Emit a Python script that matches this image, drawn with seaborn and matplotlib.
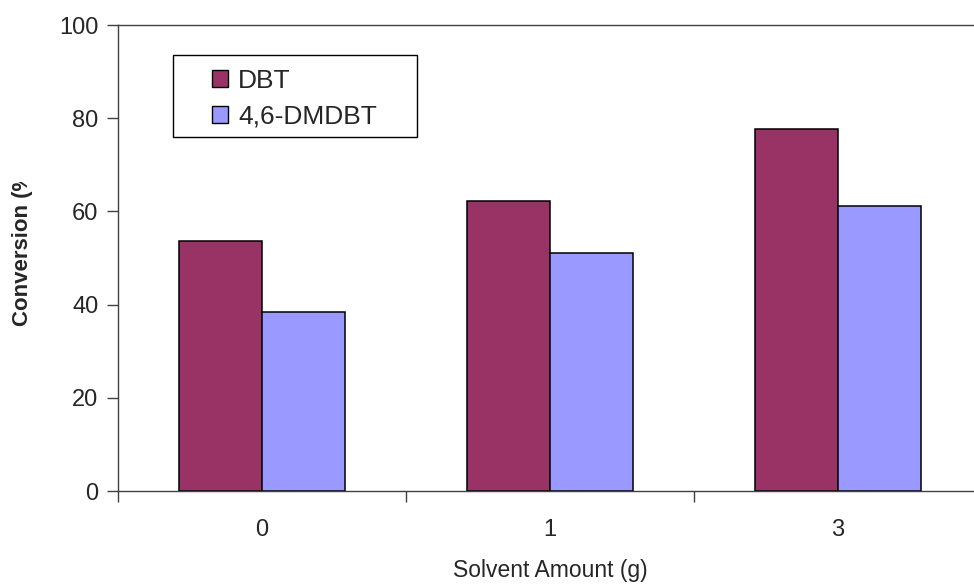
import matplotlib
matplotlib.use("Agg")
import matplotlib.pyplot as plt
import seaborn as sns
import pandas as pd
from matplotlib.transforms import Bbox
from matplotlib.patches import Patch, Rectangle

categories = ["0", "1", "3"]
dbt = [53.6, 62.2, 77.7]
dmdbt = [38.4, 51.1, 61.2]
series = ["DBT", "4,6-DMDBT"]
colors = ["#993366", "#9999FF"]
yticks = [0, 20, 40, 60, 80, 100]

df = pd.DataFrame({
    "Solvent": categories * 2,
    "Conversion": dbt + dmdbt,
    "Series": [series[0]] * 3 + [series[1]] * 3,
})

sns.set_theme(style="white")
plt.rcParams["font.family"] = ["Liberation Sans", "DejaVu Sans"]

W, H = 974, 585
fig = plt.figure(figsize=(W / 100, H / 100), dpi=100)
ax = fig.add_axes([118 / W, (H - 491) / H, (982 - 118) / W, (491 - 25) / H])

sns.barplot(data=df, x="Solvent", y="Conversion", hue="Series", order=categories,
            hue_order=series, palette=colors, width=0.576, gap=0,
            edgecolor="black", linewidth=1.1, saturation=1, ax=ax, legend=False)

ax.set_xlim(-0.5, 2.5)
ax.set_ylim(0, 100)
ax.set_yticks(yticks)
ax.set_yticklabels([str(v) for v in yticks], fontsize=17)
ax.set_xticks(range(3))
ax.set_xticklabels(categories, fontsize=17)
ax.set_xticks([-0.5, 0.5, 1.5, 2.5], minor=True)
ax.tick_params(axis="x", which="major", length=0, pad=20)
ax.tick_params(axis="x", which="minor", length=8, width=1, color="#404040", direction="out", bottom=True)
ax.tick_params(axis="y", length=8, width=1, color="#404040", direction="out", left=True, pad=6)
ax.set_xlabel("Solvent Amount (g)", fontsize=16.5, labelpad=13)
ax.set_ylabel("")
for s in ax.spines.values():
    s.set_visible(True)
    s.set_color("#404040")
    s.set_linewidth(1.0)

t = fig.text(23 / W, (H - 326) / H, "Conversion (%)", rotation=90, ha="center", va="bottom",
             fontsize=16, fontweight="bold")
t.set_clip_on(True)
t.set_clip_box(Bbox.from_extents(0, 0, 120, H - 182))

fig.patches.append(Rectangle((173 / W, (H - 137) / H), (417 - 173) / W, (137 - 55) / H,
                             transform=fig.transFigure, facecolor="white",
                             edgecolor="black", linewidth=1.0, zorder=5))

fs = 19
handles = [Patch(facecolor=c, edgecolor="black", linewidth=1.0) for c in colors]
leg = fig.legend(handles, series, loc="upper left",
                 bbox_to_anchor=(212 / W, (H - 68.5) / H), fontsize=fs,
                 frameon=False,
                 handlelength=16 / (fs * 100 / 72), handleheight=16 / (fs * 100 / 72),
                 handletextpad=0.38, borderpad=0, labelspacing=0.45, borderaxespad=0)
leg.set_zorder(6)

fig.savefig("out.png", dpi=100)
